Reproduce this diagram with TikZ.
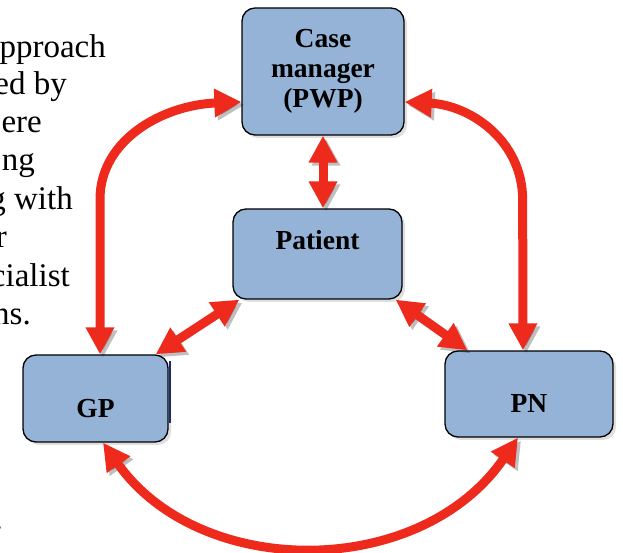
\documentclass[tikz,border=0pt]{standalone}
\usepackage{fontspec}
\setmainfont{Liberation Serif}
\usetikzlibrary{arrows.meta,shadows}
\definecolor{boxblue}{RGB}{149,179,215}
\definecolor{linkred}{RGB}{237,42,28}
\definecolor{edgenavy}{RGB}{25,45,110}
\tikzset{
	box/.style={draw=black, line width=1.3pt, fill=boxblue, rounded corners=13pt,
		font=\fontsize{27.5}{30}\selectfont\bfseries, align=center, inner sep=0pt,
		drop shadow={opacity=0.25, shadow xshift=3pt, shadow yshift=-3pt}},
	link/.style={linkred, line width=9pt,
		{Triangle[length=27pt,width=27pt]}-{Triangle[length=27pt,width=27pt]},
		preaction={draw=black, opacity=0.25, transform canvas={shift={(3pt,-3pt)}}}},
	prose/.style={anchor=base east, inner sep=0pt, font=\fontsize{33}{38}\selectfont},
}

\begin{document}
\begin{tikzpicture}[x=1pt, y=1pt]
			%%%%% START %%%%%
			\useasboundingbox (0, 0) rectangle (623, 553);
			
			% text cut off at the left
			\node[prose] (txta) at (106, 495) {pproach};
			\node[prose] (txtb) at (67, 458) {ed by};
			\node[prose] (txtc) at (42, 420) {ere};
			\node[prose] (txtd) at (35, 382) {ng};
			\node[prose] (txte) at (73, 343) {g with};
			\node[prose] (txtf) at (7, 305) {r};
			\node[prose] (txtg) at (70, 266) {cialist};
			\node[prose] (txth) at (31, 228) {ns.};
			\node[prose] (txti) at (3, 23) {.};
			
			% boxes
			\node[box, minimum width=162, minimum height=127] (case) at (323, 481.5) {Case\\manager\\(PWP)};
			\node[box, minimum width=169, minimum height=90, text height=18pt, text depth=26pt] (patient) at (317.5, 299) {Patient};
			\node[box, minimum width=145, minimum height=87, text height=39pt, text depth=0pt] (gp) at (95.5, 154.5) {GP};
			\node[box, minimum width=168, minimum height=86, text height=38pt, text depth=0pt] (pn) at (529, 159) {PN};
			\fill[edgenavy] ([yshift=-7pt]gp.north east) rectangle ([xshift=2.5pt, yshift=20pt]gp.south east);
			
			% links
			\draw[link] ([xshift=4.5pt]gp.north) -- ++(0, 155) .. controls +(0, 60) and +(-78, -3) .. ([yshift=-30.5pt]case.west);
			\draw[link] ([yshift=-30.5pt]case.east) .. controls +(65, -3) and +(0, 60) .. ++(118, -98) -- ([xshift=-6pt]pn.north);
			\draw[link] ([xshift=7.5pt]gp.south) .. controls (200, -27) and (420, -27) .. ([xshift=-11pt]pn.south);
			\draw[link] (case.south) -- (case.south |- patient.north);
			\draw[link] ([xshift=7pt]patient.south west) -- ([xshift=-13pt]gp.north east);
			\draw[link] ([xshift=-7pt]patient.south east) -- ([xshift=23pt]pn.north west);
			
			%%%%% END %%%%%
\end{tikzpicture}
\end{document}
